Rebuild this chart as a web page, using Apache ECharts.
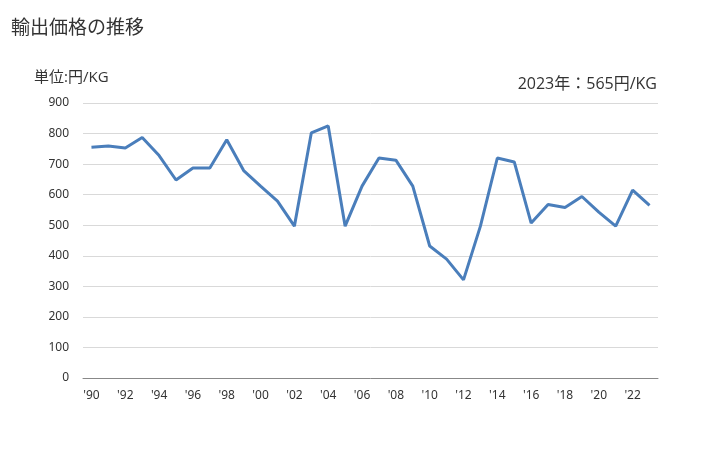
<!DOCTYPE html>
<html><head><meta charset="utf-8">
<script src="https://cdn.jsdelivr.net/npm/echarts@6/dist/echarts.min.js"></script>
<style>html,body{margin:0;padding:0;background:#fff}#c{width:728px;height:450px}</style>
</head><body><div id="c"></div>
<script>
const years = ["'90","'91","'92","'93","'94","'95","'96","'97","'98","'99","'00","'01","'02","'03","'04","'05","'06","'07","'08","'09","'10","'11","'12","'13","'14","'15","'16","'17","'18","'19","'20","'21","'22","'23"];
const prices = [755,759,753,787,728,648,687,687,780,679,628,579,497,802,825,497,628,720,713,628,432,389,321,497,720,707,507,568,558,594,543,497,615,565];
const yTicks = {min:0, max:900, interval:100};
const chart = echarts.init(document.getElementById('c'), null, {renderer:'canvas'});
chart.setOption({
  animation:false,
  graphic:[
    {type:'text', left:11, top:17, style:{text:'輸出価格の推移', font:'19px "Noto Sans CJK JP"', fill:'#333'}},
    {type:'text', left:34, top:70, style:{text:'単位:円/KG', font:'15px "Open Sans","Noto Sans CJK JP"', fill:'#333'}},
    {type:'text', right:71, top:76, style:{text:'2023年：565円/KG', font:'16px "Open Sans","Noto Sans CJK JP"', fill:'#333'}}
  ],
  grid:{left:83, right:70, top:103, bottom:72},
  xAxis:{type:'category', data:years, boundaryGap:true,
    axisLine:{lineStyle:{color:'#888'}}, axisTick:{show:false},
    axisLabel:{interval:1, color:'#333', fontSize:12, fontFamily:'"Noto Sans", sans-serif', margin:12}},
  yAxis:{type:'value', min:yTicks.min, max:yTicks.max, interval:yTicks.interval,
    axisLine:{show:false}, axisTick:{show:false},
    splitLine:{lineStyle:{color:'#d9d9d9'}},
    axisLabel:{color:'#333', fontSize:12, fontFamily:'"Noto Sans", sans-serif', margin:14}},
  series:[{type:'line', data:prices, symbol:'none', lineStyle:{color:'#4a7ebb', width:3}}]
});
</script></body></html>
